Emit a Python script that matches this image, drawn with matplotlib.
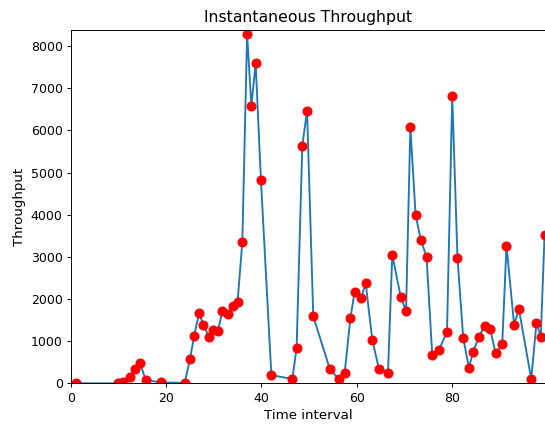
import matplotlib
matplotlib.use("Agg")
import matplotlib.pyplot as plt

# time intervals and throughput values
time_interval = [
    1.0, 9.9, 11.0, 12.4, 13.4, 14.5, 15.7, 18.9, 23.9, 25.0,
    25.9, 26.9, 27.8, 29.0, 29.9, 30.9, 31.8, 32.9, 34.0, 35.0,
    36.0, 37.0, 37.9, 38.8, 39.9, 42.1, 46.5, 47.4, 48.6, 49.6,
    50.9, 54.4, 56.3, 57.5, 58.7, 59.6, 61.0, 61.9, 63.3, 64.7,
    66.6, 67.5, 69.3, 70.4, 71.3, 72.4, 73.5, 74.7, 75.9, 77.3,
    79.0, 80.1, 81.2, 82.4, 83.6, 84.5, 85.7, 86.9, 88.1, 89.2,
    90.6, 91.5, 93.1, 94.1, 96.7, 97.8, 98.7, 99.5,
]
throughput = [
    0, 0, 30, 157, 340, 475, 80, 20, 10, 585,
    1130, 1670, 1385, 1105, 1265, 1250, 1715, 1640, 1835, 1935,
    3360, 8290, 6580, 7590, 4825, 197, 100, 845, 5640, 6460,
    1590, 330, 100, 250, 1540, 2175, 2030, 2390, 1030, 340,
    250, 3045, 2040, 1720, 6090, 3995, 3400, 3005, 670, 790,
    1225, 6825, 2980, 1080, 370, 750, 1105, 1360, 1280, 710,
    925, 3265, 1385, 1765, 100, 1440, 1105, 3520,
]

fig = plt.figure(figsize=(545 / 85, 426 / 85), dpi=85)
ax = fig.add_axes([71 / 545, 42.7 / 426, 475 / 545, 353.3 / 426])

ax.plot(time_interval, throughput, color="#1f77b4", linewidth=1.6)
ax.plot(time_interval, throughput, "ro", markersize=7.5)

ax.set_xlim(0, 99.8)
ax.set_ylim(0, 8380)
ax.set_xticks([0, 20, 40, 60, 80])
ax.tick_params(labelsize=10.6)
ax.set_title("Instantaneous Throughput", fontsize=13.3, pad=7)
ax.set_xlabel("Time interval", fontsize=11.3)
ax.set_ylabel("Throughput", fontsize=11.3)

fig.savefig("out.png", dpi=85)
